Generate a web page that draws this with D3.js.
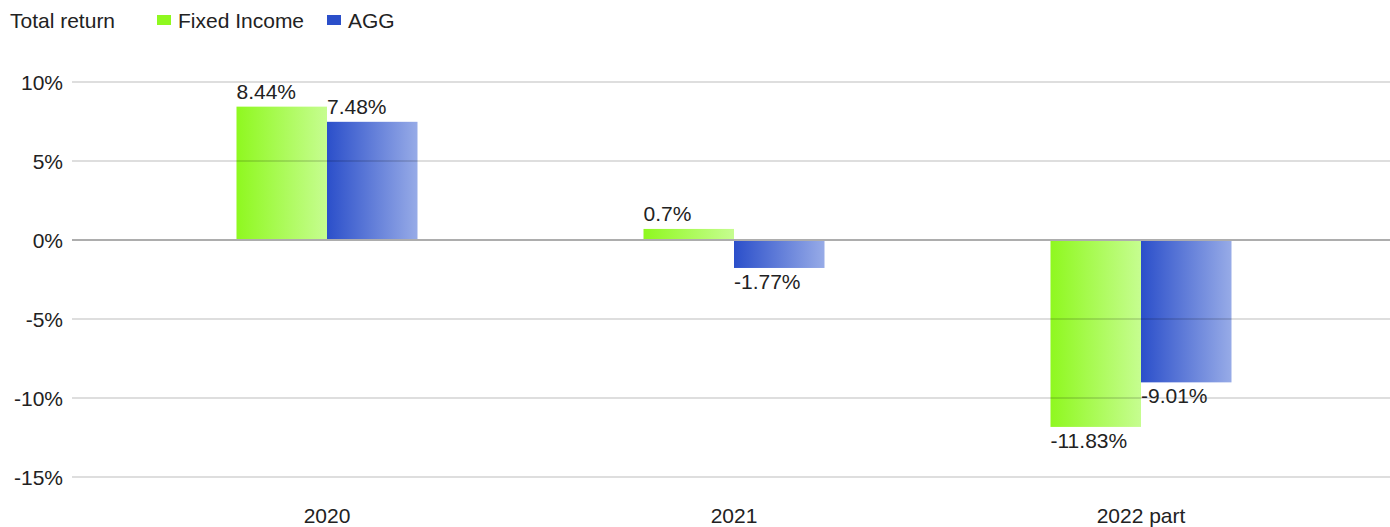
<!DOCTYPE html>
<html><head><meta charset="utf-8">
<script src="https://cdn.jsdelivr.net/npm/d3@7"></script>
<style>body{margin:0;background:#fff;font-family:"Liberation Sans",Arial,sans-serif;}</style>
</head><body>
<svg id="c" width="1390" height="527"></svg>
<script>
const categories = ["2020", "2021", "2022 part"];
const seriesNames = ["Fixed Income", "AGG"];
const fixedIncome = [8.44, 0.7, -11.83];
const agg = [7.48, -1.77, -9.01];
const yTicks = [10, 5, 0, -5, -10, -15];
const labels = [["8.44%", "0.7%", "-11.83%"], ["7.48%", "-1.77%", "-9.01%"]];

const svg = d3.select("#c");
const FS = 21;
const gridLeft = 72, gridRight = 1390;
const y = d3.scaleLinear().domain([-15, 10]).range([477, 82]);
const x = d3.scaleBand().domain(categories).range([123.5, 1344.5]).paddingInner(0).paddingOuter(0);
const barW = 90.5;
const series = [fixedIncome, agg];

const defs = svg.append("defs");
const grads = [["gGreen", "#8ff81f", "#c6fd90"], ["gBlue", "#2b4fca", "#97abe7"]];
grads.forEach(([id, c0, c1]) => {
  const g = defs.append("linearGradient").attr("id", id).attr("x1", "0").attr("x2", "1").attr("y1", "0").attr("y2", "0");
  g.append("stop").attr("offset", "0").attr("stop-color", c0);
  g.append("stop").attr("offset", "1").attr("stop-color", c1);
});

// bars
series.forEach((vals, si) => {
  svg.append("g").selectAll("rect").data(vals).join("rect")
    .attr("x", (d, i) => x(categories[i]) + x.bandwidth() / 2 - barW + si * barW)
    .attr("width", barW)
    .attr("y", d => y(Math.max(0, d)))
    .attr("height", d => Math.abs(y(d) - y(0)))
    .attr("fill", `url(#${grads[si][0]})`);
});

// grid
const grid = svg.append("g");
yTicks.forEach(t => {
  grid.append("line").attr("x1", gridLeft).attr("x2", gridRight)
    .attr("y1", y(t)).attr("y2", y(t))
    .attr("stroke", t === 0 ? "#adadad" : "rgba(0,0,0,0.13)")
    .attr("stroke-width", 2);
});

// y axis labels
const yAxis = d3.axisLeft(y).tickValues(yTicks).tickSize(0).tickPadding(0).tickFormat(d => d + "%");
const ya = svg.append("g").attr("transform", "translate(63,0)").call(yAxis);
ya.select(".domain").remove();
ya.selectAll("text").attr("font-size", FS).attr("fill", "#222").attr("font-family", "Liberation Sans, Arial, sans-serif").attr("dy", "0.35em");

// x axis labels
const xAxis = d3.axisBottom(x).tickSize(0).tickPadding(0);
const xa = svg.append("g").attr("transform", "translate(0,508)").call(xAxis);
xa.select(".domain").remove();
xa.selectAll("text").attr("font-size", FS).attr("fill", "#222").attr("font-family", "Liberation Sans, Arial, sans-serif").attr("dy", "0.71em");

// value labels
series.forEach((vals, si) => {
  svg.append("g").selectAll("text").data(vals).join("text")
    .attr("x", (d, i) => x(categories[i]) + x.bandwidth() / 2 - barW + si * barW)
    .attr("y", d => d >= 0 ? y(d) - 8 : y(d) + 21)
    .attr("font-size", FS).attr("fill", "#222")
    .text((d, i) => labels[si][i]);
});

// title & legend
svg.append("text").attr("x", 10).attr("y", 28).attr("font-size", FS).attr("fill", "#222").text("Total return");
const legX = [157, 327];
const legC = ["#8ff81f", "#2b4fca"];
seriesNames.forEach((n, i) => {
  svg.append("rect").attr("x", legX[i]).attr("y", 15).attr("width", 14).attr("height", 10).attr("fill", legC[i]);
  svg.append("text").attr("x", legX[i] + 21).attr("y", 28).attr("font-size", FS).attr("fill", "#222").text(n);
});
</script>
</body></html>
